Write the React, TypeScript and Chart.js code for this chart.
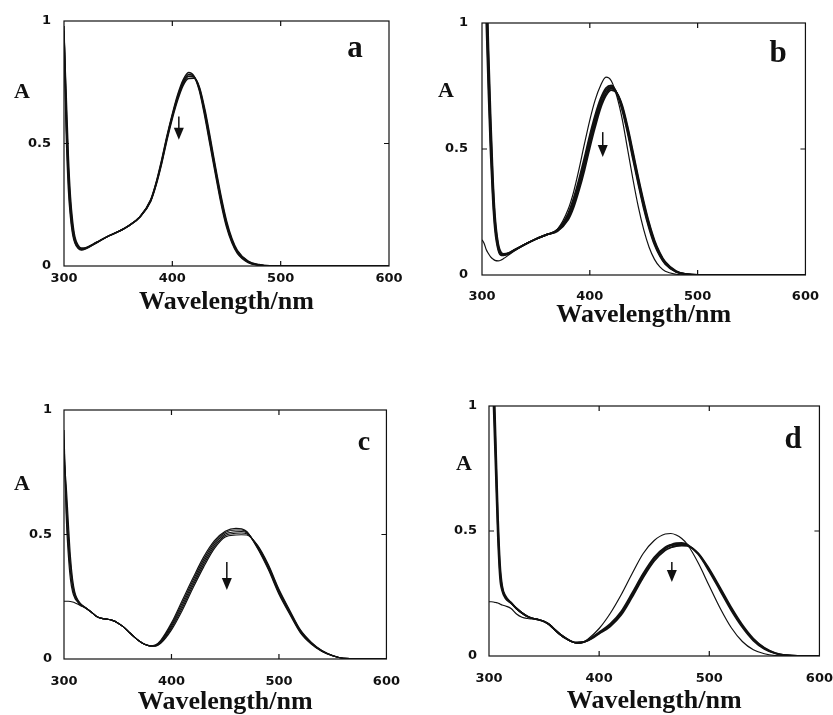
import React, { useEffect, useRef } from "react";
import { Chart, registerables } from "chart.js";
Chart.register(...registerables);

// ---------- data ----------
const xTickValues = [300, 400, 500, 600];
const yTickValues = [0, 0.5, 1];
const xTitle = "Wavelength/nm";
const yTitle = "A";

// panel a
const waveA = [300, 302, 304, 306, 308, 310, 313, 316, 320, 330, 340, 350, 360, 370, 380, 385, 390, 395, 400, 405, 410, 415, 420, 425, 430, 435, 440, 445, 450, 455, 460, 470, 480, 490, 600];
const a1 = [0.98, 0.55, 0.32, 0.2, 0.13, 0.095, 0.072, 0.065, 0.07, 0.095, 0.12, 0.14, 0.165, 0.2, 0.27, 0.34, 0.43, 0.53, 0.62, 0.7, 0.76, 0.79, 0.775, 0.715, 0.61, 0.49, 0.37, 0.255, 0.16, 0.095, 0.052, 0.014, 0.003, 0, 0];
const a2 = [0.96, 0.6, 0.36, 0.22, 0.14, 0.1, 0.075, 0.067, 0.071, 0.095, 0.12, 0.14, 0.165, 0.2, 0.268, 0.337, 0.425, 0.525, 0.615, 0.693, 0.752, 0.782, 0.773, 0.72, 0.62, 0.5, 0.38, 0.265, 0.168, 0.1, 0.056, 0.016, 0.004, 0, 0];
const a3 = [0.95, 0.65, 0.4, 0.25, 0.16, 0.11, 0.08, 0.07, 0.073, 0.096, 0.12, 0.14, 0.165, 0.2, 0.266, 0.334, 0.42, 0.52, 0.61, 0.686, 0.745, 0.775, 0.771, 0.726, 0.63, 0.512, 0.39, 0.275, 0.176, 0.106, 0.06, 0.018, 0.005, 0.001, 0];
const a4 = [0.93, 0.7, 0.45, 0.28, 0.18, 0.12, 0.085, 0.073, 0.075, 0.097, 0.12, 0.14, 0.165, 0.2, 0.264, 0.33, 0.415, 0.513, 0.602, 0.678, 0.737, 0.765, 0.766, 0.73, 0.64, 0.524, 0.4, 0.285, 0.185, 0.112, 0.064, 0.02, 0.006, 0.001, 0];

// panel b
const waveB = [300, 302, 304, 306, 308, 310, 312, 315, 318, 320, 325, 330, 340, 350, 360, 370, 380, 385, 390, 395, 400, 405, 410, 415, 420, 425, 430, 435, 440, 445, 450, 455, 460, 465, 470, 480, 490, 500, 600];
const b0 = [0.14, 0.125, 0.1, 0.085, 0.072, 0.064, 0.058, 0.056, 0.06, 0.065, 0.08, 0.095, 0.12, 0.142, 0.16, 0.182, 0.262, 0.33, 0.42, 0.52, 0.615, 0.695, 0.752, 0.785, 0.77, 0.71, 0.62, 0.5, 0.38, 0.27, 0.18, 0.11, 0.062, 0.032, 0.015, 0.003, 0, 0, 0];
const b1 = [1.6, 1.3, 1.0, 0.72, 0.48, 0.3, 0.18, 0.1, 0.078, 0.078, 0.085, 0.098, 0.122, 0.143, 0.16, 0.18, 0.245, 0.305, 0.38, 0.465, 0.555, 0.635, 0.7, 0.742, 0.752, 0.722, 0.655, 0.565, 0.46, 0.36, 0.265, 0.185, 0.12, 0.075, 0.043, 0.012, 0.002, 0, 0];
const b2 = [1.7, 1.4, 1.08, 0.78, 0.53, 0.33, 0.2, 0.108, 0.081, 0.08, 0.086, 0.098, 0.122, 0.143, 0.16, 0.178, 0.236, 0.292, 0.364, 0.447, 0.537, 0.619, 0.688, 0.733, 0.746, 0.722, 0.662, 0.574, 0.47, 0.369, 0.274, 0.192, 0.126, 0.079, 0.046, 0.013, 0.003, 0, 0];
const b3 = [1.8, 1.5, 1.15, 0.84, 0.58, 0.37, 0.22, 0.116, 0.084, 0.082, 0.087, 0.099, 0.122, 0.143, 0.16, 0.176, 0.228, 0.28, 0.35, 0.43, 0.52, 0.603, 0.674, 0.722, 0.74, 0.722, 0.668, 0.582, 0.48, 0.378, 0.283, 0.2, 0.132, 0.084, 0.049, 0.014, 0.003, 0, 0];
const b4 = [1.9, 1.6, 1.22, 0.9, 0.63, 0.4, 0.24, 0.125, 0.088, 0.084, 0.088, 0.1, 0.122, 0.143, 0.16, 0.174, 0.22, 0.268, 0.336, 0.415, 0.505, 0.588, 0.662, 0.712, 0.734, 0.722, 0.674, 0.59, 0.49, 0.387, 0.292, 0.207, 0.138, 0.088, 0.052, 0.016, 0.003, 0, 0];

// panel c
const waveC = [300, 302, 304, 306, 308, 310, 312, 315, 320, 325, 330, 335, 340, 345, 350, 355, 360, 365, 370, 375, 380, 385, 390, 400, 410, 420, 430, 440, 450, 460, 465, 470, 480, 490, 500, 510, 520, 530, 540, 550, 560, 600];
const c0 = [0.232, 0.232, 0.232, 0.231, 0.229, 0.226, 0.222, 0.215, 0.205, 0.19, 0.172, 0.163, 0.16, 0.155, 0.145, 0.13, 0.11, 0.09, 0.072, 0.059, 0.053, 0.056, 0.075, 0.145, 0.235, 0.325, 0.41, 0.475, 0.513, 0.525, 0.523, 0.512, 0.445, 0.36, 0.26, 0.18, 0.105, 0.06, 0.03, 0.012, 0.003, 0];
const c1 = [0.92, 0.58, 0.42, 0.32, 0.27, 0.245, 0.232, 0.218, 0.205, 0.19, 0.172, 0.163, 0.16, 0.155, 0.145, 0.13, 0.11, 0.09, 0.072, 0.059, 0.053, 0.055, 0.072, 0.138, 0.225, 0.315, 0.4, 0.468, 0.508, 0.518, 0.518, 0.51, 0.448, 0.365, 0.265, 0.184, 0.108, 0.062, 0.031, 0.013, 0.003, 0];
const c2 = [0.88, 0.62, 0.46, 0.35, 0.285, 0.252, 0.236, 0.22, 0.205, 0.19, 0.172, 0.163, 0.16, 0.155, 0.145, 0.13, 0.11, 0.09, 0.072, 0.059, 0.053, 0.054, 0.069, 0.131, 0.215, 0.305, 0.39, 0.46, 0.502, 0.511, 0.512, 0.507, 0.451, 0.37, 0.27, 0.188, 0.111, 0.064, 0.032, 0.013, 0.003, 0];
const c3 = [0.84, 0.66, 0.5, 0.38, 0.3, 0.26, 0.24, 0.222, 0.206, 0.19, 0.172, 0.163, 0.16, 0.155, 0.145, 0.13, 0.11, 0.09, 0.072, 0.059, 0.053, 0.053, 0.066, 0.124, 0.205, 0.295, 0.38, 0.452, 0.496, 0.505, 0.506, 0.503, 0.454, 0.375, 0.275, 0.192, 0.114, 0.066, 0.033, 0.014, 0.003, 0];
const c4 = [0.8, 0.7, 0.55, 0.41, 0.32, 0.27, 0.245, 0.224, 0.207, 0.19, 0.172, 0.163, 0.16, 0.155, 0.145, 0.13, 0.11, 0.09, 0.072, 0.059, 0.053, 0.052, 0.063, 0.117, 0.195, 0.285, 0.37, 0.444, 0.49, 0.498, 0.499, 0.498, 0.457, 0.38, 0.28, 0.196, 0.117, 0.068, 0.034, 0.014, 0.003, 0];

// panel d
const waveD = [300, 302, 304, 306, 308, 310, 312, 315, 320, 325, 330, 335, 340, 345, 350, 355, 360, 365, 370, 375, 380, 385, 390, 400, 410, 420, 430, 440, 450, 460, 465, 470, 475, 480, 490, 500, 510, 520, 530, 540, 550, 560, 570, 580, 600];
const d0 = [0.217, 0.217, 0.216, 0.214, 0.212, 0.208, 0.204, 0.2, 0.19, 0.168, 0.155, 0.15, 0.148, 0.145, 0.138, 0.125, 0.104, 0.085, 0.07, 0.058, 0.051, 0.054, 0.068, 0.11, 0.17, 0.245, 0.33, 0.41, 0.462, 0.488, 0.49, 0.484, 0.47, 0.447, 0.372, 0.28, 0.19, 0.113, 0.058, 0.025, 0.009, 0.002, 0, 0, 0];
const d1 = [1.6, 1.3, 1.02, 0.75, 0.48, 0.31, 0.26, 0.23, 0.212, 0.19, 0.172, 0.158, 0.15, 0.145, 0.138, 0.125, 0.104, 0.085, 0.07, 0.058, 0.053, 0.055, 0.064, 0.095, 0.128, 0.178, 0.252, 0.33, 0.395, 0.435, 0.445, 0.451, 0.452, 0.446, 0.407, 0.338, 0.26, 0.182, 0.115, 0.062, 0.028, 0.01, 0.002, 0, 0];
const d2 = [1.7, 1.4, 1.1, 0.82, 0.53, 0.34, 0.27, 0.235, 0.213, 0.19, 0.172, 0.158, 0.15, 0.145, 0.138, 0.125, 0.104, 0.085, 0.07, 0.058, 0.053, 0.055, 0.063, 0.092, 0.123, 0.171, 0.244, 0.322, 0.388, 0.43, 0.441, 0.446, 0.448, 0.444, 0.409, 0.343, 0.266, 0.188, 0.12, 0.066, 0.031, 0.011, 0.003, 0, 0];
const d3 = [1.8, 1.5, 1.18, 0.88, 0.58, 0.37, 0.28, 0.24, 0.214, 0.19, 0.172, 0.158, 0.15, 0.145, 0.138, 0.125, 0.104, 0.085, 0.07, 0.058, 0.053, 0.055, 0.062, 0.089, 0.118, 0.164, 0.236, 0.314, 0.38, 0.423, 0.434, 0.44, 0.442, 0.44, 0.411, 0.348, 0.272, 0.194, 0.125, 0.07, 0.033, 0.012, 0.003, 0, 0];

// arrows (wavelength, absorbance from -> to)
const arrowA = [406, 0.61, 0.515];
const arrowB = [412, 0.567, 0.468];
const arrowC = [451.5, 0.39, 0.277];
const arrowD = [466, 0.376, 0.296];

// ---------- layout ----------
type Spec = {
  letter: string;
  waves: number[];
  series: number[][];
  widths: number[];
  arrow: number[];
  left: number; top: number; w: number; h: number;
  yWidth: number; xHeight: number; padTop: number; padRight: number;
  xTickPad: number; yTickPad: number; titlePad: number;
  aPos: [number, number];
  letterPos: [number, number];
  letterSize: number;
};

const INK = "#111";

const panels: Spec[] = [
  {
    letter: "a", waves: waveA, series: [a1, a2, a3, a4], widths: [1.5, 1.5, 1.5, 1.5], arrow: arrowA,
    left: 0, top: 0, w: 415, h: 330, yWidth: 64, xHeight: 64, padTop: 21, padRight: 26,
    xTickPad: 5, yTickPad: 13, titlePad: 12, aPos: [22, 98], letterPos: [355, 57], letterSize: 31,
  },
  {
    letter: "b", waves: waveB, series: [b0, b1, b2, b3, b4], widths: [1.2, 1.8, 1.8, 1.8, 1.8], arrow: arrowB,
    left: 418, top: 0, w: 415, h: 335, yWidth: 64, xHeight: 60, padTop: 23, padRight: 19,
    xTickPad: 14, yTickPad: 14, titlePad: 4, aPos: [28, 97], letterPos: [360, 62], letterSize: 31,
  },
  {
    letter: "c", waves: waveC, series: [c0, c1, c2, c3, c4], widths: [1.2, 1.2, 1.2, 1.2, 1.2], arrow: arrowC,
    left: 0, top: 385, w: 415, h: 340, yWidth: 64, xHeight: 66, padTop: 25, padRight: 18,
    xTickPad: 15, yTickPad: 12, titlePad: 7, aPos: [22, 105], letterPos: [364, 65], letterSize: 28,
  },
  {
    letter: "d", waves: waveD, series: [d0, d1, d2, d3], widths: [1.2, 1.8, 1.8, 1.8], arrow: arrowD,
    left: 418, top: 385, w: 430, h: 340, yWidth: 71, xHeight: 69, padTop: 21, padRight: 28,
    xTickPad: 15, yTickPad: 12, titlePad: 8, aPos: [46, 85], letterPos: [375, 63], letterSize: 31,
  },
];

function makeConfig(spec: Spec): any {
  const decor = {
    id: "decor",
    afterDraw(chart: any) {
      const { ctx, chartArea: ca, scales } = chart;
      const xs = scales.x;
      const ys = scales.y;
      ctx.save();
      ctx.strokeStyle = INK;
      ctx.lineWidth = 1.2;
      ctx.strokeRect(ca.left, ca.top, ca.right - ca.left, ca.bottom - ca.top);
      ctx.beginPath();
      for (const v of xTickValues.slice(1, -1)) {
        const px = xs.getPixelForValue(v);
        ctx.moveTo(px, ca.bottom); ctx.lineTo(px, ca.bottom - 5);
        ctx.moveTo(px, ca.top); ctx.lineTo(px, ca.top + 5);
      }
      for (const v of yTickValues.slice(1, -1)) {
        const py = ys.getPixelForValue(v);
        ctx.moveTo(ca.left, py); ctx.lineTo(ca.left + 5, py);
        ctx.moveTo(ca.right, py); ctx.lineTo(ca.right - 5, py);
      }
      ctx.stroke();

      // arrow
      const [aw, ay0, ay1] = spec.arrow;
      const ax = xs.getPixelForValue(aw);
      const py0 = ys.getPixelForValue(ay0);
      const py1 = ys.getPixelForValue(ay1);
      const head = 12;
      ctx.lineWidth = 1.5;
      ctx.beginPath();
      ctx.moveTo(ax, py0); ctx.lineTo(ax, py1 - head + 1);
      ctx.stroke();
      ctx.fillStyle = INK;
      ctx.beginPath();
      ctx.moveTo(ax - 5, py1 - head);
      ctx.lineTo(ax + 5, py1 - head);
      ctx.lineTo(ax, py1);
      ctx.closePath();
      ctx.fill();

      // texts
      ctx.fillStyle = INK;
      ctx.textAlign = "center";
      ctx.textBaseline = "alphabetic";
      ctx.font = "bold 22px 'Liberation Serif'";
      ctx.fillText(yTitle, spec.aPos[0], spec.aPos[1]);
      ctx.font = `bold ${spec.letterSize}px 'Liberation Serif'`;
      ctx.fillText(spec.letter, spec.letterPos[0], spec.letterPos[1]);
      ctx.restore();
    },
  };

  return {
    type: "line",
    data: {
      datasets: spec.series.map((s, i) => ({
        label: `${spec.letter}${i}`,
        data: spec.waves.map((w, j) => ({ x: w, y: s[j] })),
        borderColor: INK,
        borderWidth: spec.widths[i],
        pointRadius: 0,
        fill: false,
        cubicInterpolationMode: "monotone",
      })),
    },
    options: {
      animation: false,
      responsive: false,
      maintainAspectRatio: false,
      events: [],
      layout: { padding: { top: spec.padTop, right: spec.padRight, bottom: 0, left: 0 } },
      plugins: { legend: { display: false }, tooltip: { enabled: false } },
      scales: {
        x: {
          type: "linear",
          min: xTickValues[0],
          max: xTickValues[xTickValues.length - 1],
          afterBuildTicks: (s: any) => { s.ticks = xTickValues.map((v) => ({ value: v })); },
          afterFit: (s: any) => { s.height = spec.xHeight; },
          grid: { display: false, drawTicks: false },
          border: { display: false },
          ticks: {
            padding: spec.xTickPad,
            color: INK,
            maxRotation: 0,
            autoSkip: false,
            font: { family: "'DejaVu Sans'", size: 13, weight: "bold" },
          },
          title: {
            display: true,
            text: xTitle,
            color: INK,
            font: { family: "'Liberation Serif'", size: 26, weight: "bold" },
            padding: { top: 0, bottom: spec.titlePad },
          },
        },
        y: {
          type: "linear",
          min: yTickValues[0],
          max: yTickValues[yTickValues.length - 1],
          afterBuildTicks: (s: any) => { s.ticks = yTickValues.map((v) => ({ value: v })); },
          afterFit: (s: any) => { s.width = spec.yWidth; },
          grid: { display: false, drawTicks: false },
          border: { display: false },
          ticks: {
            padding: spec.yTickPad,
            color: INK,
            font: { family: "'DejaVu Sans'", size: 13, weight: "bold" },
            callback: (v: any) => String(v),
          },
        },
      },
    },
    plugins: [decor],
  };
}

function Panel({ spec }: { spec: Spec }) {
  const ref = useRef<HTMLCanvasElement | null>(null);
  useEffect(() => {
    if (!ref.current) return;
    const chart = new Chart(ref.current, makeConfig(spec));
    return () => chart.destroy();
  }, [spec]);
  return (
    <canvas
      ref={ref}
      width={spec.w}
      height={spec.h}
      style={{ position: "absolute", left: spec.left, top: spec.top, width: spec.w, height: spec.h }}
    />
  );
}

export default function App() {
  return (
    <div
      style={{
        position: "fixed",
        left: 0,
        top: 0,
        width: 833,
        height: 715,
        overflow: "hidden",
        background: "#fff",
      }}
    >
      {panels.map((p) => (
        <Panel key={p.letter} spec={p} />
      ))}
    </div>
  );
}
